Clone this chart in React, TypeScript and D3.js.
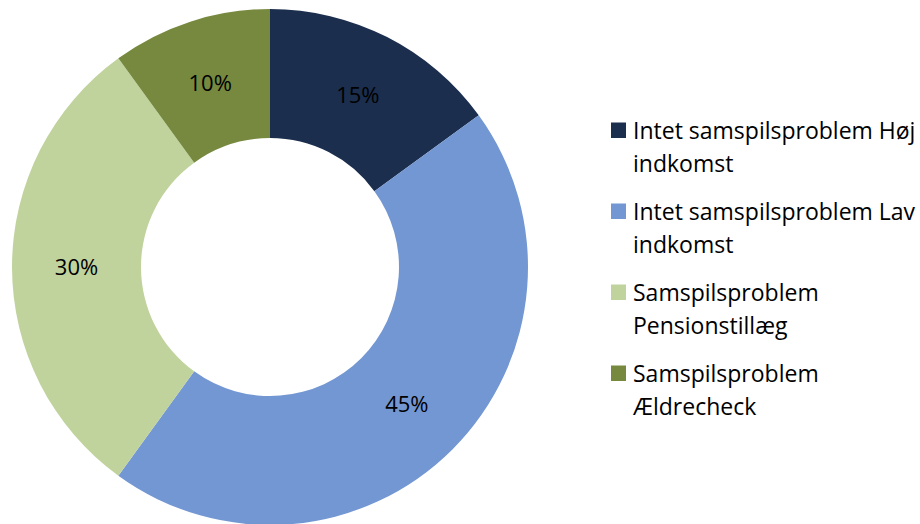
import React from "react";
import * as d3 from "d3";

const categories = [
  "Intet samspilsproblem Høj indkomst",
  "Intet samspilsproblem Lav indkomst",
  "Samspilsproblem Pensionstillæg",
  "Samspilsproblem Ældrecheck",
];
const legendLines = [
  ["Intet samspilsproblem Høj", "indkomst"],
  ["Intet samspilsproblem Lav", "indkomst"],
  ["Samspilsproblem", "Pensionstillæg"],
  ["Samspilsproblem", "Ældrecheck"],
];
const values = [15, 45, 30, 10];
const colors = ["#1b2e4e", "#7397d2", "#c0d39d", "#76893f"];

const W = 920;
const H = 524;
const cx = 270;
const cy = 267;
const R = 258;
const r = 129;
const FONT = "'Open Sans', sans-serif";

export default function App() {
  const pie = d3.pie<number>().sort(null).value((d) => d)(values);
  const arc = d3.arc<d3.PieArcDatum<number>>().innerRadius(r).outerRadius(R);
  const labelArc = d3
    .arc<d3.PieArcDatum<number>>()
    .innerRadius((r + R) / 2)
    .outerRadius((r + R) / 2);
  const total = d3.sum(values);
  return (
    <svg
      width={W}
      height={H}
      style={{ position: "absolute", left: 0, top: 0, display: "block" }}
      fontFamily={FONT}
    >
      <rect width={W} height={H} fill="#fff" />
      <g transform={`translate(${cx},${cy})`}>
        {pie.map((p, i) => (
          <path key={i} d={arc(p) || ""} fill={colors[i]} />
        ))}
        {pie.map((p, i) => {
          const [x, y] = labelArc.centroid(p);
          return (
            <text
              key={"l" + i}
              x={x}
              y={y}
              dy="0.36em"
              textAnchor="middle"
              fontSize={22}
              fill="#000"
            >
              {Math.round((values[i] / total) * 100)}%
            </text>
          );
        })}
      </g>
      <g>
        {categories.map((c, i) => {
          const base = 138.5 + i * 81;
          return (
            <g key={c}>
              <rect x={611} y={base - 16} width={15} height={15.5} fill={colors[i]} />
              {legendLines[i].map((ln, j) => (
                <text key={j} x={633} y={base + j * 33.5} fontSize={23} fill="#000">
                  {ln}
                </text>
              ))}
            </g>
          );
        })}
      </g>
    </svg>
  );
}
